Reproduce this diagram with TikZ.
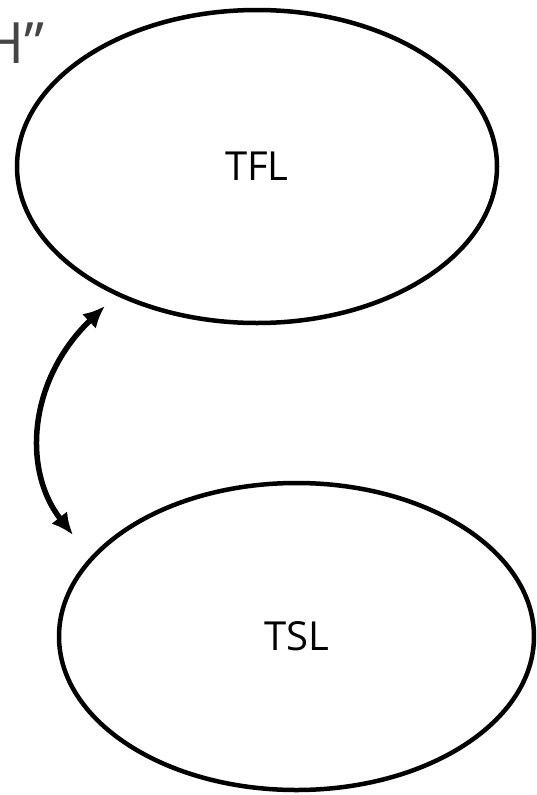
\documentclass[tikz,border=0pt]{standalone}
\usepackage{fontspec}
\setmainfont{Open Sans}
\usetikzlibrary{shapes.geometric,arrows.meta}
\definecolor{labelgray}{HTML}{454545}
\tikzset{
  state/.style={draw=black, line width=4.5pt, ellipse, inner sep=0pt, outer sep=0pt, font=\fontsize{40}{44}\selectfont},
  link/.style={line width=5.5pt, {Latex[length=22pt,width=20pt]}-{Latex[length=22pt,width=20pt]}},
}
\begin{document}
\begin{tikzpicture}[x=1pt,y=-1pt]
\clip (0,0) rectangle (536,795);
\fill[white] (0,0) rectangle (536,795);
\node[anchor=base west, text=labelgray, font=\fontsize{57}{60}\selectfont, inner sep=0pt] (hq) at (-18,63) {H”};
\node[state, minimum width=480pt, minimum height=313pt] (tfl) at (257,166.5) {TFL};
\node[state, minimum width=475pt, minimum height=307pt] (tsl) at (296.5,636.5) {TSL};
\coordinate (tflend) at (105,306);
\coordinate (tslend) at (73,535);
\draw[link] (tslend) .. controls (22,470) and (28,380) .. (tflend);
\end{tikzpicture}
\end{document}
